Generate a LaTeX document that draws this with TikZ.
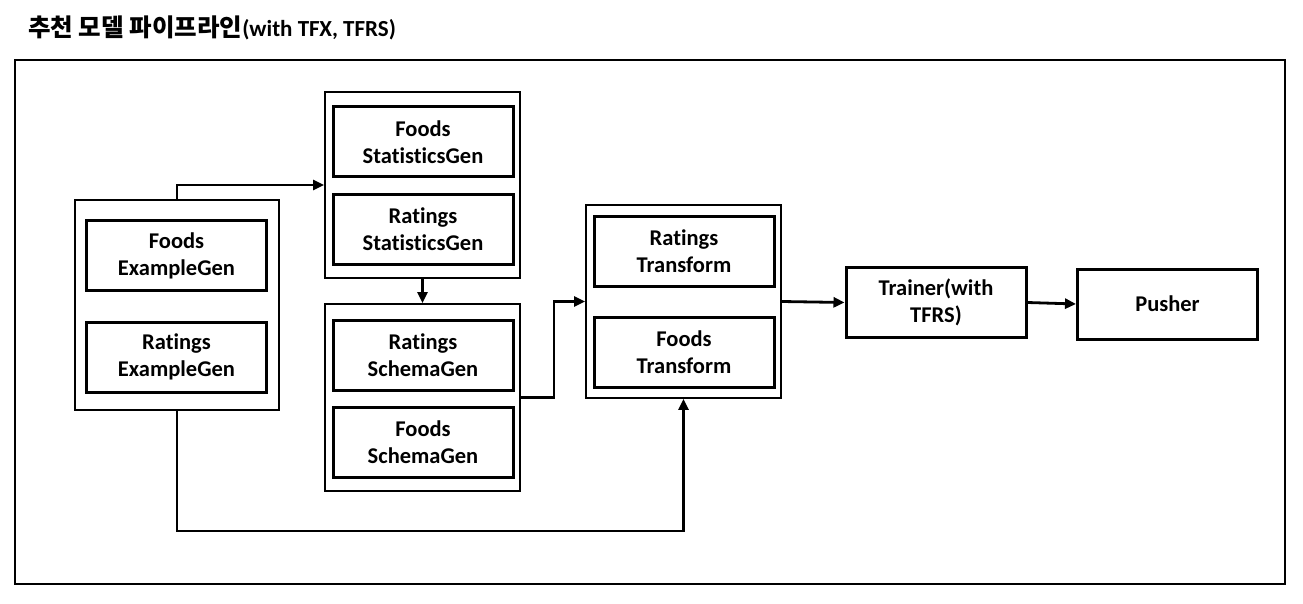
\documentclass[tikz,border=0pt]{standalone}
\usepackage{fontspec}
\setmainfont{Carlito}[Ligatures={NoCommon}]
\newfontfamily\krfont{Noto Sans CJK KR}
\usetikzlibrary{arrows.meta, positioning}

\begin{document}
\begin{tikzpicture}[x=1pt, y=-1pt,
  stage/.style={draw, line width=3pt, minimum width=180pt, minimum height=70pt,
    align=center, font=\fontsize{22.5}{27}\selectfont\bfseries, inner sep=0pt},
  group/.style={draw, line width=1.8pt, inner sep=0pt},
  flow/.style={line width=2.8pt, -{Triangle[length=11pt, width=10pt]}}
]
  \useasboundingbox (0,0) rectangle (1303,604);
  % title and frame
  \node[anchor=west, inner sep=0pt] (title) at (28,28)
    {\krfont\bfseries\fontsize{24.5}{28}\selectfont 추천 모델 파이프라인\rmfamily\bfseries\fontsize{23}{28}\selectfont(with TFX, TFRS)};
  \draw[line width=1.8pt] (15,60) rectangle (1285,584);

  % ExampleGen group
  \node[group, minimum width=204pt, minimum height=210pt] (exgen) at (177,305) {};
  \node[stage] (fexg) at (176.5,255.5) {Foods\\ExampleGen};
  \node[stage] (rexg) at (176.5,357) {Ratings\\ExampleGen};

  % StatisticsGen group
  \node[group, minimum width=195pt, minimum height=186pt] (statgen) at (422.5,185) {};
  \node[stage] (fstat) at (423,142) {Foods\\StatisticsGen};
  \node[stage] (rstat) at (423,229.5) {Ratings\\StatisticsGen};

  % SchemaGen group
  \node[group, minimum width=195pt, minimum height=187pt] (schgen) at (422.5,397.5) {};
  \node[stage] (rsch) at (423,355) {Ratings\\SchemaGen};
  \node[stage] (fsch) at (423,442.5) {Foods\\SchemaGen};

  % Transform group
  \node[group, minimum width=195pt, minimum height=193pt] (trans) at (683.5,301.5) {};
  \node[stage] (rtr) at (684,251.5) {Ratings\\Transform};
  \node[stage] (ftr) at (684,352.5) {Foods\\Transform};

  \node[stage] (trainer) at (936,302.5) {Trainer(with\\TFRS)};
  \node[stage] (pusher) at (1167.5,304) {Pusher};

  % connectors
  \draw[flow] (exgen.north) |- (statgen.west);
  \draw[flow] (statgen.south) -- (schgen.north);
  \draw[flow] (schgen.east) -- ++(33,0) |- (trans.west);
  \draw[flow] (exgen.south) -- ++(0,120) -| (trans.south);
  \draw[flow] (trans.east) -- (trainer.west);
  \draw[flow] (trainer.east) -- (pusher.west);
\end{tikzpicture}
\end{document}
